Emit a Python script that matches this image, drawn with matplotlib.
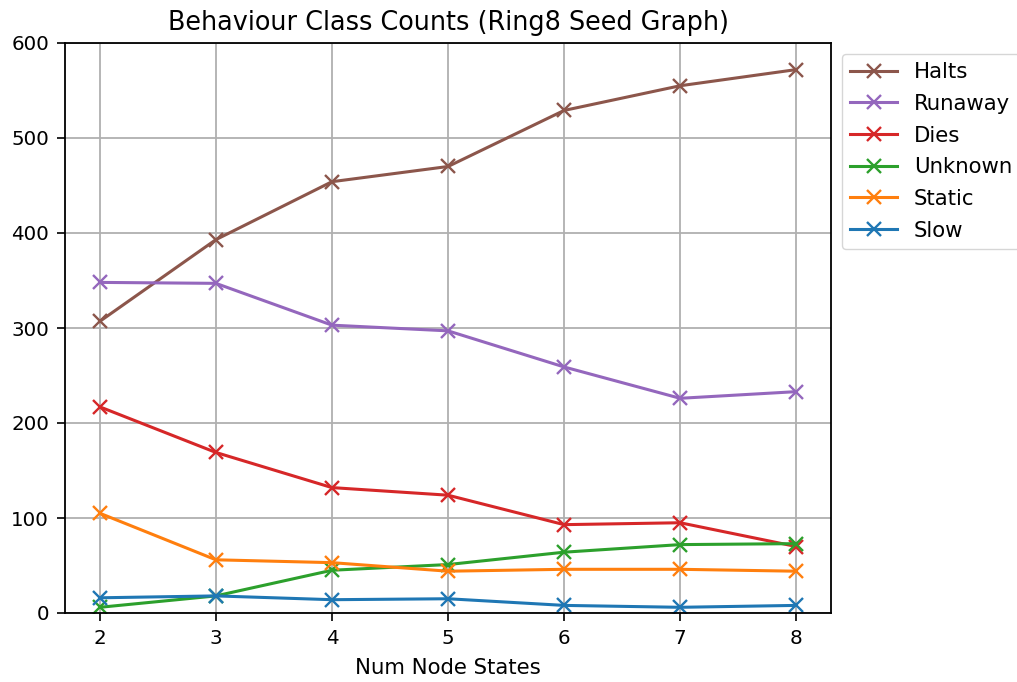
import matplotlib
matplotlib.use("Agg")
from matplotlib import pyplot as plt

# Data ##################################################################
states = [2, 3, 4, 5, 6, 7, 8]
halts = [307, 393, 454, 470, 529, 555, 572]
runaway = [348, 347, 303, 297, 259, 226, 233]
dies = [217, 169, 132, 124, 93, 95, 70]
unknown = [6, 18, 45, 51, 64, 72, 73]
static = [105, 56, 53, 44, 46, 46, 44]
slow = [16, 18, 14, 15, 8, 6, 8]

# Plot ##################################################################
fig = plt.figure(figsize=(10.17, 6.82), dpi=100)
ax = fig.add_axes([65/1017, 1-613/682, (831-65)/1017, (613-43)/682])

style = dict(marker='x', ms=10, mew=1.7, lw=2.2)
ax.plot(states, halts, color='tab:brown', label='Halts', **style)
ax.plot(states, runaway, color='tab:purple', label='Runaway', **style)
ax.plot(states, dies, color='tab:red', label='Dies', **style)
ax.plot(states, unknown, color='tab:green', label='Unknown', **style)
ax.plot(states, static, color='tab:orange', label='Static', **style)
ax.plot(states, slow, color='tab:blue', label='Slow', **style)

ax.set_ylim(0, 600)
ax.set_xticks(states)
ax.grid(True, lw=1.3)
ax.tick_params(labelsize=14.3, length=5.5, width=1.2, pad=6)
for s in ax.spines.values():
    s.set_linewidth(1.3)
ax.set_xlabel("Num Node States", fontsize=15.3, labelpad=7)
ax.set_title("Behaviour Class Counts (Ring8 Seed Graph)", fontsize=18.4, pad=9)
ax.legend(loc='upper left', bbox_to_anchor=(1.0, 1.0), fontsize=15.3,
          labelspacing=0.55, handlelength=2.2)

fig.savefig("out.png", dpi=100)
